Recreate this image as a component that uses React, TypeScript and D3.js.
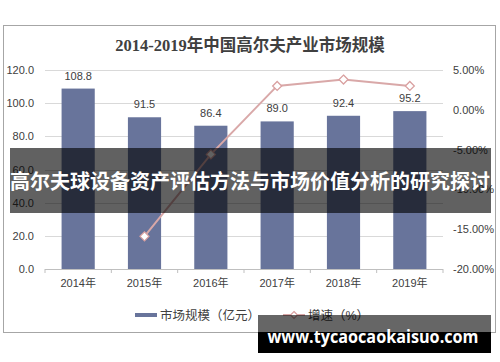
import * as d3 from "d3";

// chart values
const years = ["2014年", "2015年", "2016年", "2017年", "2018年", "2019年"];
const marketSize = [108.8, 91.5, 86.4, 89.0, 92.4, 95.2];
const growth: (number | null)[] = [null, -15.9, -5.6, 3.0, 3.8, 3.0];
const leftTicks = [0, 20, 40, 60, 80, 100, 120];
const rightTicks = [5, 0, -5, -10, -15, -20];

const title = "2014-2019年中国高尔夫产业市场规模";
const banner = "高尔夫球设备资产评估方法与市场价值分析的研究探讨";
const watermark = "www.tycaocaokaisuo.com";
const legendBar = "市场规模（亿元）";
const legendLine = "增速（%）";

const W = 500;
const H = 362;
const plot = { left: 45, right: 443, top: 70, bottom: 269 };
const sans = "'Liberation Sans', Arial, 'Noto Sans CJK SC', sans-serif";

export default function App() {
  const x = d3
    .scaleBand<string>()
    .domain(years)
    .range([plot.left, plot.right])
    .paddingInner(0.5)
    .paddingOuter(0.25);
  const y = d3.scaleLinear().domain([0, 120]).range([plot.bottom, plot.top]);
  const y2 = d3.scaleLinear().domain([-20, 5]).range([plot.bottom, plot.top]);

  const step = x.step();
  const cx = (c: string) => (x(c) ?? 0) + x.bandwidth() / 2;

  const pts = years
    .map((c, i) => ({ c, v: growth[i] }))
    .filter((d) => d.v !== null) as { c: string; v: number }[];

  const line = d3
    .line<{ c: string; v: number }>()
    .x((d) => cx(d.c))
    .y((d) => y2(d.v));

  const diamond = (px: number, py: number, r = 4.5) =>
    `M${px},${py - r}L${px + r},${py}L${px},${py + r}L${px - r},${py}Z`;

  const boundaries = d3.range(years.length + 1).map((i) => plot.left + i * step);

  return (
    <svg
      width={W}
      height={H}
      style={{ position: "absolute", left: 0, top: 0, background: "#fff" }}
    >
      <rect x={3.5} y={25.5} width={492} height={307} fill="#fff" stroke="#a6a6a6" />
      <text
        x={250}
        y={51}
        textAnchor="middle"
        fontSize={16.5}
        fontWeight="bold"
        fill="#404040"
        fontFamily="'Liberation Serif', 'Noto Sans CJK SC', serif"
      >
        {title}
      </text>

      {/* grid */}
      {leftTicks.slice(1).map((t) => (
        <line
          key={t}
          x1={plot.left}
          x2={plot.right}
          y1={Math.round(y(t)) + 0.5}
          y2={Math.round(y(t)) + 0.5}
          stroke="#d9d9d9"
        />
      ))}

      {/* bars */}
      {years.map((c, i) => (
        <rect
          key={c}
          x={x(c)}
          y={y(marketSize[i])}
          width={x.bandwidth()}
          height={plot.bottom - y(marketSize[i])}
          fill="#68749b"
        />
      ))}

      {/* x axis */}
      <line x1={plot.left} x2={plot.right} y1={plot.bottom + 0.5} y2={plot.bottom + 0.5} stroke="#bfbfbf" />
      {boundaries.map((b, i) => (
        <line key={i} x1={b} x2={b} y1={plot.bottom} y2={plot.bottom + 4} stroke="#bfbfbf" />
      ))}

      {/* value labels */}
      {years.map((c, i) => (
        <text
          key={c}
          x={cx(c)}
          y={y(marketSize[i]) - 9}
          textAnchor="middle"
          fontSize={11}
          fill="#404040"
          fontFamily={sans}
        >
          {marketSize[i].toFixed(1)}
        </text>
      ))}

      {/* growth line */}
      <path d={line(pts) ?? ""} fill="none" stroke="#d9a8a8" strokeWidth={2} />
      {pts.map((d) => (
        <path
          key={d.c}
          d={diamond(cx(d.c), y2(d.v))}
          fill="#fff"
          stroke="#d9a0a0"
          strokeWidth={1.3}
        />
      ))}

      {/* left ticks */}
      {leftTicks.map((t) => (
        <text
          key={t}
          x={34}
          y={y(t) + 4}
          textAnchor="end"
          fontSize={11}
          fill="#404040"
          fontFamily={sans}
        >
          {t.toFixed(1)}
        </text>
      ))}
      {/* right ticks */}
      {rightTicks.map((t) => (
        <text
          key={t}
          x={453}
          y={y2(t) + 4}
          textAnchor="start"
          fontSize={11}
          fill="#404040"
          fontFamily={sans}
        >
          {t.toFixed(2) + "%"}
        </text>
      ))}
      {/* category labels */}
      {years.map((c) => (
        <text
          key={c}
          x={cx(c)}
          y={287}
          textAnchor="middle"
          fontSize={11}
          fill="#404040"
          fontFamily={sans}
        >
          {c}
        </text>
      ))}

      {/* legend */}
      <rect x={135} y={313} width={22} height={4} fill="#68749b" />
      <text x={160} y={320} fontSize={12.5} fill="#404040" fontFamily={sans}>
        {legendBar}
      </text>
      <line x1={283} x2={305} y1={315} y2={315} stroke="#d9a8a8" strokeWidth={2} />
      <path d={diamond(294, 315, 3.5)} fill="#fff" stroke="#d9a0a0" strokeWidth={1.2} />
      <text x={308} y={320} fontSize={12.5} fill="#404040" fontFamily={sans}>
        {legendLine}
      </text>

      {/* overlay banner */}
      <rect x={10} y={148} width={481} height={65} fill="#000" fillOpacity={0.62} />
      <text
        x={250}
        y={189}
        textAnchor="middle"
        fontSize={20}
        fontWeight="bold"
        fill="#fff"
        fontFamily="'Noto Sans CJK SC', sans-serif"
        textLength={480}
        lengthAdjust="spacingAndGlyphs"
      >
        {banner}
      </text>

      {/* watermark */}
      <rect x={258} y={315} width={233} height={17} fill="#000" fillOpacity={0.6} />
      <rect x={258} y={332} width={233} height={21} fill="#000" />
      <text
        x={373}
        y={343}
        textAnchor="middle"
        fontSize={17}
        fontWeight="bold"
        fill="#fff"
        fontFamily="'Open Sans', 'DejaVu Sans', sans-serif"
        textLength={211}
        lengthAdjust="spacingAndGlyphs"
      >
        {watermark}
      </text>
    </svg>
  );
}
